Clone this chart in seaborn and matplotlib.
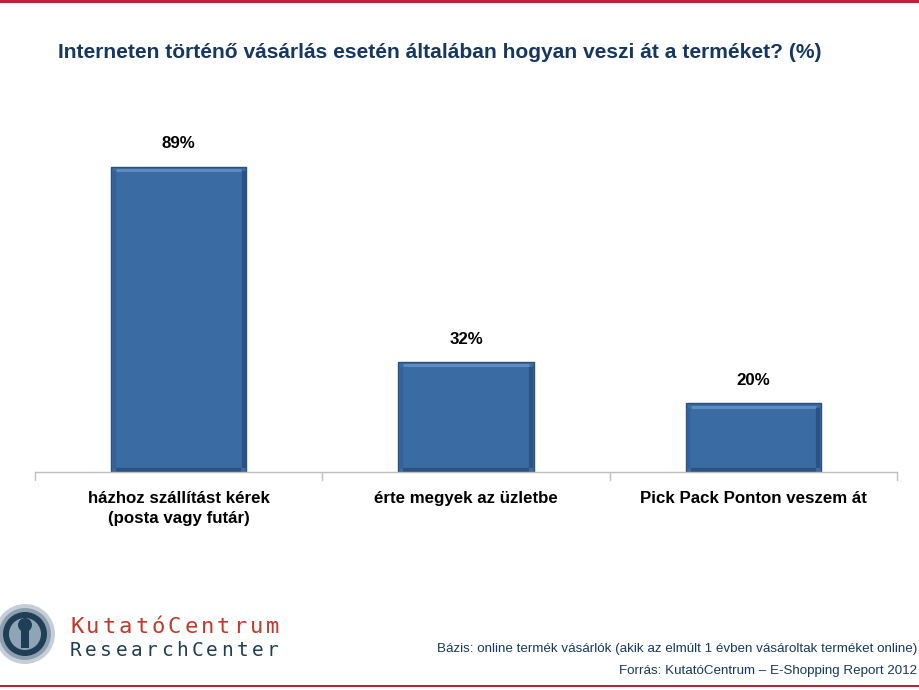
import matplotlib
matplotlib.use("Agg")
import matplotlib.pyplot as plt
import seaborn as sns
import pandas as pd
from matplotlib.patches import Ellipse, Rectangle

categories = ["házhoz szállítást kérek\n(posta vagy futár)", "érte megyek az üzletbe", "Pick Pack Ponton veszem át"]
values = [89, 32, 20]
value_labels = ["89%", "32%", "20%"]

title = "Interneten történő vásárlás esetén általában hogyan veszi át a terméket? (%)"
foot1 = "Bázis: online termék vásárlók (akik az elmúlt 1 évben vásároltak terméket online)"
foot2 = "Forrás: KutatóCentrum – E-Shopping Report 2012"
logo1 = "KutatóCentrum"
logo2 = "ResearchCenter"

sns.set_theme(style="white")
fam = ["Liberation Sans", "DejaVu Sans"]
plt.rcParams["font.family"] = fam

W, H = 920, 690
fig = plt.figure(figsize=(9.2, 6.9), dpi=100)
fig.patch.set_facecolor("white")

ax = fig.add_axes([35 / W, 1 - 472 / H, (897 - 35) / W, 343 / H])
df = pd.DataFrame({"cat": categories, "val": values})
sns.barplot(data=df, x="cat", y="val", color="#3A6BA3", width=0.47, ax=ax,
            edgecolor="#2A4F7E", linewidth=1.0, saturation=1)
ax.set_ylim(0, 100)
ax.set_xlim(-0.5, 2.5)
ax.set_xlabel("")
ax.set_ylabel("")
ax.set_yticks([])
for s in ["top", "right", "left"]:
    ax.spines[s].set_visible(False)
ax.spines["bottom"].set_color("#BFBFBF")
ax.spines["bottom"].set_linewidth(1.0)
ax.set_xticks([0, 1, 2])
ax.set_xticklabels(categories, fontsize=12.2, fontweight="bold", color="black",
                   linespacing=1.4)
ax.tick_params(axis="x", length=0, pad=14)
for xb in [-0.5, 0.5, 1.5, 2.5]:
    ax.plot([xb, xb], [0, -2.3], color="#BFBFBF", lw=1.0, clip_on=False)

# bevel effect on the bars drawn by seaborn
for p in ax.patches:
    x0, y0 = p.get_x(), p.get_y()
    w, h = p.get_width(), p.get_height()
    dx, dy = w * 0.035, 1.3
    ax.plot([x0 + dx, x0 + w - dx], [y0 + h - dy * 0.7, y0 + h - dy * 0.7], color="#5E8CC0", lw=2.2,
            solid_capstyle="butt")
    ax.plot([x0 + w - dx * 0.5, x0 + w - dx * 0.5], [y0 + dy, y0 + h - dy], color="#2C5284", lw=3,
            solid_capstyle="butt")
    ax.plot([x0 + dx * 0.5, x0 + dx * 0.5], [y0 + dy, y0 + h - dy], color="#34619A", lw=2.5,
            solid_capstyle="butt")
    ax.plot([x0 + dx, x0 + w - dx], [y0 + dy * 0.5, y0 + dy * 0.5], color="#2C5284", lw=3,
            solid_capstyle="butt")

for i, (v, lab) in enumerate(zip(values, value_labels)):
    ax.annotate(lab, (i, v), xytext=(0, 11), textcoords="offset points", ha="center",
                va="bottom", fontsize=12.2, fontweight="bold", color="black")

# title
fig.text(58 / W, 1 - 52 / H, title, fontsize=15.1, fontweight="bold", color="#17375E",
         ha="left", va="center")

# red lines top and bottom
fig.add_artist(Rectangle((0, 1 - 3 / H), 1, 3 / H, transform=fig.transFigure,
                         color="#C0203A", lw=0))
fig.add_artist(Rectangle((0, 1 - 687 / H), 1, 2 / H, transform=fig.transFigure,
                         color="#C0203A", lw=0))

# footnotes
fig.text(917 / W, 1 - 649 / H, foot1, fontsize=9.6, color="#17375E", ha="right", va="center")
fig.text(917 / W, 1 - 671 / H, foot2, fontsize=9.6, color="#17375E", ha="right", va="center")

# logo
cx, cy = 25, 634
def circ(r, fc, dy=0, ec="none", lw=0):
    fig.add_artist(Ellipse((cx / W, 1 - (cy + dy) / H), 2 * r / W, 2 * r / H,
                           transform=fig.transFigure, facecolor=fc, edgecolor=ec, lw=lw))
circ(30, "#C5CFD8")
circ(26, "#8EA0B0")
circ(22, "#1F3F56")
circ(16, "#8FA5B7")
# keyhole
circ(7, "#1F3F56", dy=-9)
fig.add_artist(Rectangle(((cx - 4) / W, 1 - (cy + 14) / H), 8 / W, 20 / H,
                         transform=fig.transFigure, facecolor="#1F3F56", edgecolor="none"))

step1 = (282 - 70) / len(logo1)
for k, ch in enumerate(logo1):
    fig.text((70 + k * step1) / W, 1 - 627 / H, ch, fontsize=16, color="#C0392B",
             family=["DejaVu Sans Mono"], ha="left", va="center")
step2 = (282 - 70) / len(logo2)
for k, ch in enumerate(logo2):
    fig.text((70 + k * step2) / W, 1 - 650 / H, ch, fontsize=14, color="#1F3F4F",
             family=["DejaVu Sans Mono"], ha="left", va="center")

fig.savefig("out.png", dpi=100, facecolor="white")
